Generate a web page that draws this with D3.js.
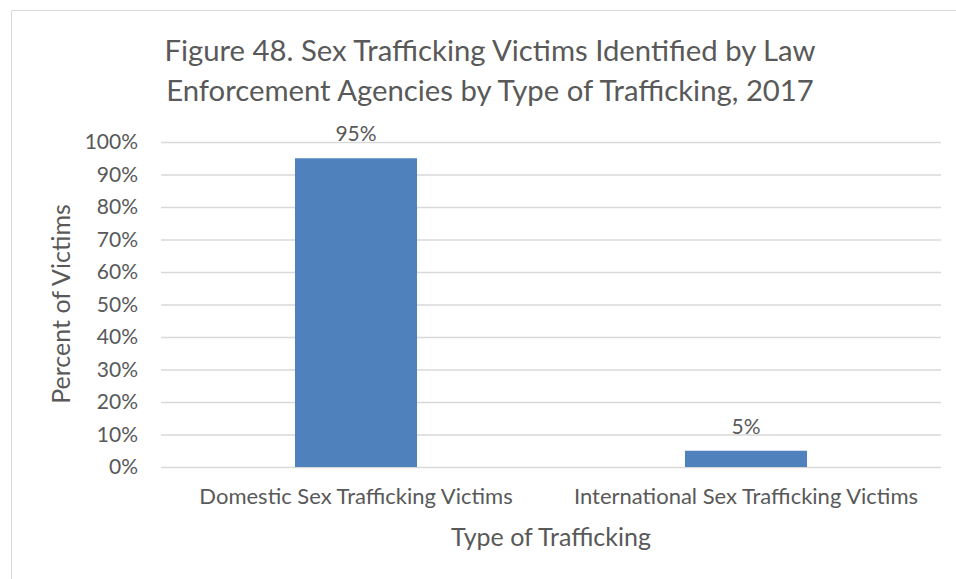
<!DOCTYPE html>
<html>
<head>
<meta charset="utf-8">
<script src="https://cdn.jsdelivr.net/npm/d3@7"></script>
<style>
  html, body { margin: 0; padding: 0; background: #fff; }
  svg { display: block; font-family: Lato, "Open Sans", sans-serif; }
</style>
</head>
<body>
<svg id="chart" width="956" height="579"></svg>
<script>
// Sex trafficking victims by type, 2017
const categories = ["Domestic Sex Trafficking Victims", "International Sex Trafficking Victims"];
const values = [95, 5];
const yTicks = [0, 10, 20, 30, 40, 50, 60, 70, 80, 90, 100];
const titleLines = [
  "Figure 48. Sex Trafficking Victims Identified by Law",
  "Enforcement Agencies by Type of Trafficking, 2017"
];
const yTitle = "Percent of Victims";
const xTitle = "Type of Trafficking";

const svg = d3.select("#chart");
const textColor = "#595959";
const plot = { left: 161, right: 941, top: 142, bottom: 467 };

// chart area frame
svg.append("path")
  .attr("d", "M11.5,579 V10.5 H956")
  .attr("fill", "none")
  .attr("stroke", "#d9d9d9")
  .attr("stroke-width", 1);

const x = d3.scaleBand()
  .domain(categories)
  .range([plot.left, plot.right])
  .paddingInner(0.687)
  .paddingOuter(0.3435);

const y = d3.scaleLinear()
  .domain([0, 100])
  .range([plot.bottom, plot.top]);

// gridlines
const grid = d3.axisLeft(y)
  .tickValues(yTicks)
  .tickSize(-(plot.right - plot.left))
  .tickFormat("");
svg.append("g")
  .attr("transform", `translate(${plot.left},0)`)
  .call(grid)
  .call(g => g.select(".domain").remove())
  .call(g => g.selectAll("line").attr("stroke", "#d9d9d9").attr("stroke-width", 1.3));

// y tick labels
const yAxis = d3.axisLeft(y)
  .tickValues(yTicks)
  .tickSize(0)
  .tickPadding(23)
  .tickFormat(d => d + "%");
svg.append("g")
  .attr("transform", `translate(${plot.left},0)`)
  .call(yAxis)
  .call(g => g.select(".domain").remove())
  .call(g => g.selectAll("text")
    .attr("fill", textColor)
    .style("font-size", "21px")
    .style("font-family", "Lato, sans-serif"));

// bars
svg.append("g")
  .selectAll("rect")
  .data(values)
  .join("rect")
  .attr("x", (d, i) => x(categories[i]))
  .attr("width", x.bandwidth())
  .attr("y", d => y(d))
  .attr("height", d => y(0) - y(d))
  .attr("fill", "#4f81bd");

// value labels
svg.append("g")
  .selectAll("text")
  .data(values)
  .join("text")
  .attr("x", (d, i) => x(categories[i]) + x.bandwidth() / 2)
  .attr("y", d => y(d) - 17)
  .attr("text-anchor", "middle")
  .attr("fill", textColor)
  .style("font-size", "21px")
  .text(d => d + "%");

// category labels
const xAxis = d3.axisBottom(x).tickSize(0).tickPadding(21);
svg.append("g")
  .attr("transform", `translate(0,${plot.bottom})`)
  .call(xAxis)
  .call(g => g.select(".domain").remove())
  .call(g => g.selectAll("text")
    .attr("fill", textColor)
    .style("font-size", "22px")
    .style("font-family", "Lato, sans-serif"));

// title
svg.append("text")
  .attr("text-anchor", "middle")
  .attr("fill", textColor)
  .style("font-size", "29.3px")
  .selectAll("tspan")
  .data(titleLines)
  .join("tspan")
  .attr("x", 490)
  .attr("y", (d, i) => 61 + i * 40)
  .text(d => d);

// axis titles
svg.append("text")
  .attr("transform", `translate(70,304) rotate(-90)`)
  .attr("text-anchor", "middle")
  .attr("fill", textColor)
  .style("font-size", "25px")
  .text(yTitle);

svg.append("text")
  .attr("x", 551)
  .attr("y", 546)
  .attr("text-anchor", "middle")
  .attr("fill", textColor)
  .style("font-size", "25px")
  .text(xTitle);
</script>
</body>
</html>
